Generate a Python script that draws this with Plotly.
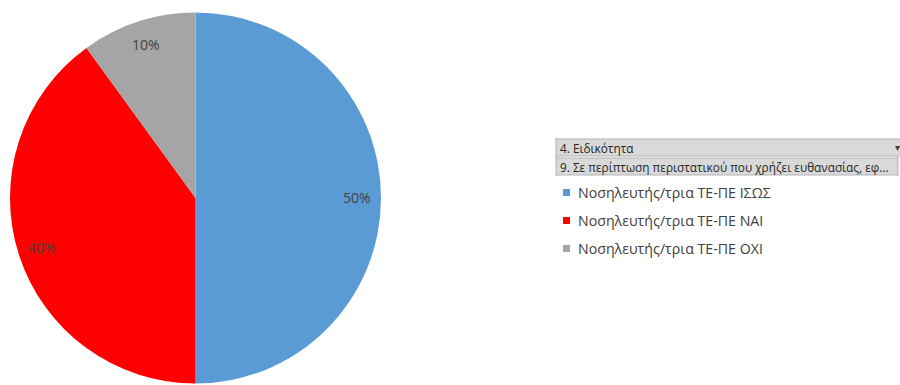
import numpy as np
import plotly.graph_objects as go

# Slice data
labels = ["Νοσηλευτής/τρια ΤΕ-ΠΕ ΙΣΩΣ", "Νοσηλευτής/τρια ΤΕ-ΠΕ ΝΑΙ", "Νοσηλευτής/τρια ΤΕ-ΠΕ ΟΧΙ"]
values = [50, 40, 10]
colors = ["#5B9BD5", "#FF0000", "#A5A5A5"]

# Pivot field buttons
field_buttons = ["4. Ειδικότητα", "9. Σε περίπτωση περιστατικού που χρήζει ευθανασίας, εφ..."]

W, H = 900, 385
cx, cy, R = 195.5, 198.0, 185.5  # pie centre / radius in pixels

fig = go.Figure()
fig.add_trace(go.Pie(
    labels=labels,
    values=values,
    sort=False,
    direction="clockwise",
    rotation=0,
    marker=dict(colors=colors, line=dict(width=0)),
    textinfo="none",
    hoverinfo="label+percent",
    showlegend=False,
    domain=dict(x=[(cx - R) / W, (cx + R) / W], y=[(H - cy - R) / H, (H - cy + R) / H]),
))

annotations = []
shapes = []

# Percentage labels placed near the rim at each slice's mid-angle
vals = np.array(values, dtype=float)
frac = vals / vals.sum()
ends = np.cumsum(frac)
mids = ends - frac / 2
for f, m in zip(frac, mids):
    ang = 2 * np.pi * m
    px = cx + 0.87 * R * np.sin(ang)
    py = cy - 0.87 * R * np.cos(ang)
    annotations.append(dict(
        x=px / W, y=1 - py / H, xref="paper", yref="paper",
        text=f"{f * 100:.0f}%", showarrow=False,
        font=dict(family="Open Sans, sans-serif", size=14, color="#404040"),
        xanchor="center", yanchor="middle",
    ))

# Field buttons (rounded grey boxes)
def rounded_rect(x0, y0, x1, y1, r=3):
    return (f"M{x0 + r},{y0} L{x1 - r},{y0} Q{x1},{y0} {x1},{y0 + r} "
            f"L{x1},{y1 - r} Q{x1},{y1} {x1 - r},{y1} L{x0 + r},{y1} "
            f"Q{x0},{y1} {x0},{y1 - r} L{x0},{y0 + r} Q{x0},{y0} {x0 + r},{y0} Z")

btn_boxes = [(556, 139, 906, 156), (556, 158, 898, 175)]
for (x0, y0, x1, y1), txt in zip(btn_boxes, field_buttons):
    # convert pixel coords (top-left origin) into paper coords
    path = rounded_rect(x0 / W, 1 - y0 / H, x1 / W, 1 - y1 / H, r=0.003)
    shapes.append(dict(type="path", xref="paper", yref="paper", path=path,
                       fillcolor="#D9D9D9", line=dict(color="#B4B4B4", width=1)))
    annotations.append(dict(
        x=(x0 + 2) / W, y=1 - ((y0 + y1) / 2) / H, xref="paper", yref="paper",
        text=txt, showarrow=False, xanchor="left", yanchor="middle",
        font=dict(family="Open Sans, sans-serif", size=11.8, color="#262626"),
    ))

# small filter glyph at the right of the first button
annotations.append(dict(
    x=897 / W, y=1 - 147 / H, xref="paper", yref="paper", text="▾",
    showarrow=False, xanchor="center", yanchor="middle",
    font=dict(family="DejaVu Sans", size=10, color="#404040"),
))

# Legend entries
leg_y0, leg_step = 192.5, 28
for i, (lab, col) in enumerate(zip(labels, colors)):
    yy = leg_y0 + i * leg_step
    shapes.append(dict(type="rect", xref="paper", yref="paper",
                       x0=563 / W, x1=570 / W, y0=1 - (yy - 3.5) / H, y1=1 - (yy + 3.5) / H,
                       fillcolor=col, line=dict(width=0)))
    annotations.append(dict(
        x=576 / W, y=1 - yy / H, xref="paper", yref="paper", text=lab,
        showarrow=False, xanchor="left", yanchor="middle",
        font=dict(family="Open Sans, sans-serif", size=14.2, color="#404040"),
    ))

fig.update_layout(
    width=W, height=H,
    margin=dict(l=0, r=0, t=0, b=0),
    paper_bgcolor="white", plot_bgcolor="white",
    annotations=annotations, shapes=shapes,
)

fig.write_html("out.html")
